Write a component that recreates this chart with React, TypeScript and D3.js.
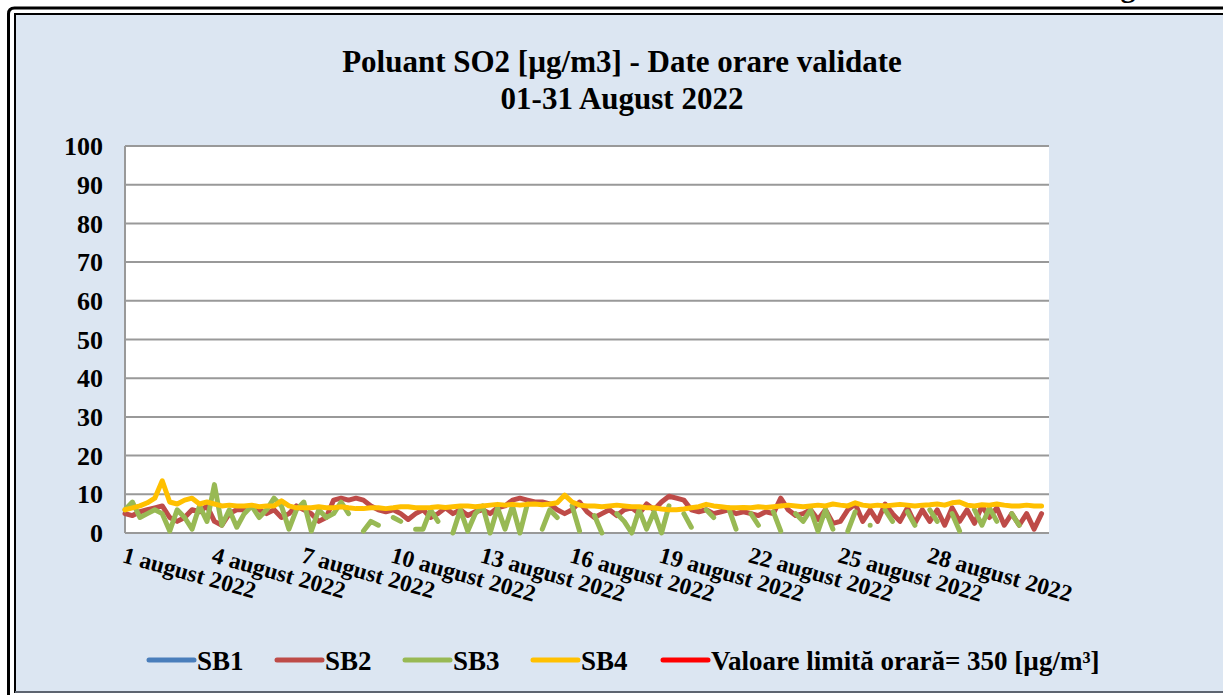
import { useRef, useEffect } from 'react';
import * as d3 from 'd3';

// hourly data sampled every 6 hours, 4 values per day, 1-31 August 2022
const stepHours = 6;
const seriesNames = ['SB1', 'SB2', 'SB3', 'SB4'];
const seriesColors = ['#4a7ebb', '#be4b48', '#98b954', '#ffc000'];
const limitLabel = 'Valoare limită orară= 350 [µg/m³]';
const limitValue = 350;
const yTicks = [0, 10, 20, 30, 40, 50, 60, 70, 80, 90, 100];
const labelDays = [1, 4, 7, 10, 13, 16, 19, 22, 25, 28];

const sb1: (number | null)[] = [];

const sb2: (number | null)[] = [
  5, 4.5, 5.5, 6,
  6.5, 7, 4, 3,
  4, 6, 5.5, 7,
  3, 2, 5, 6,
  6, 7, 6, 5,
  6, 4, 5, 7,
  6, 5, 3, 4,
  8.5, 9, 8.5, 9,
  8.5, 7, 6, 5.5,
  6, 5, 3.5, 5,
  6, 4, 5, 6.5,
  5, 6, 4.5, 5.5,
  6, 5, 6.5, 7,
  8.5, 9, 8.5, 8,
  8, 7.5, 6, 5,
  6, 8, 5.5, 4,
  5, 6, 4.5, 6,
  6.5, 5, 7.5, 6,
  8, 9.5, 9, 8.5,
  6, 5.5, 6, 5,
  5.5, 6, 5, 5.5,
  5, 4.5, 5.5, 5,
  9, 6, 4.5, 5,
  6, 3.5, 6, 2.5,
  3, 6, 7.5, 3,
  6, 3, 7.5, 5,
  3, 6.5, 2.5, 6,
  3, 6, 2, 6.5,
  3, 6, 2.5, 7,
  4, 6.5, 2, 5,
  2, 5, 1, 5,
];

const sb3: (number | null)[] = [
  6, 8, 4, 5,
  6, 5, 0.5, 6,
  4, 1, 7, 3,
  12.5, 2, 6, 1.5,
  5, 7, 4, 6,
  9, 7, 1, 6,
  8, 0.5, 6, 4,
  5, 8, 5, null,
  0.5, 3, 2, null,
  4, 3, null, 1,
  1, 6, 3, null,
  0, 6, 0.5, 5,
  7, 0, 6.5, 1,
  7, 0, 7.5, null,
  1, 6, 4, null,
  7, 0.5, null, 4.5,
  0, null, 5, 3,
  0, 6, 1, 5.5,
  0, 7, null, 5,
  1.5, null, 6, 4,
  null, 6.5, 1, null,
  5, 2, null, 5.5,
  0.5, null, 5, 3,
  6, 0.5, 6, 1,
  null, 0.5, 5.5, null,
  2, null, 6, 3,
  null, 5.5, 2, null,
  6, 3, null, 5,
  0.5, null, 6, 2,
  6.5, 3, null, 5,
  2, null, null, null,
];

const sb4: (number | null)[] = [
  6, 6.5, 7, 7.8,
  9, 13.5, 8, 7.5,
  8.5, 9, 7.5, 8,
  7.5, 7, 7.2, 7,
  7, 7.2, 6.8, 7,
  7, 8.3, 7, 6.5,
  6.5, 6.5, 6.8, 6.5,
  6.5, 6.8, 6.5, 6.3,
  6.3, 6.5, 6.5, 6.3,
  6.5, 6.8, 6.8, 6.5,
  6.5, 6.6, 6.8, 6.6,
  6.8, 7, 7, 6.8,
  7, 7.2, 7.4, 7.2,
  7.4, 7.2, 7.4, 7.5,
  7.3, 7.5, 7.8, 9.8,
  8, 7.2, 7, 7,
  6.8, 7, 7.2, 7,
  6.8, 6.8, 6.5, 6.5,
  6.2, 6, 6, 6.2,
  6.5, 6.8, 7.4, 7,
  6.8, 6.5, 6.5, 6.6,
  6.5, 6.8, 6.6, 6.8,
  7, 7.2, 7, 6.8,
  7, 7.2, 7, 7.5,
  7.2, 7, 7.8, 7.2,
  7, 7.2, 7, 7.2,
  7.4, 7.2, 7, 7.2,
  7.3, 7.5, 7.2, 7.8,
  8, 7.2, 7, 7.3,
  7.2, 7.5, 7.2, 7,
  7, 7.2, 7, 7,
];

const App = () => {
  const svgRef = useRef<SVGSVGElement>(null);

  useEffect(() => {
    const w = 1223;
    const h = 695;
    const svg = d3.select(svgRef.current).attr('width', w).attr('height', h);
    svg.selectAll('*').remove();

    const font = '"Liberation Serif", "Times New Roman", serif';

    // page frame
    svg.append('rect').attr('width', w).attr('height', h).attr('fill', '#fff');
    svg.append('path')
      .attr('d', 'M8.5,695 L8.5,14 Q8.5,8 14.5,8 L1223,8')
      .attr('fill', 'none').attr('stroke', '#000').attr('stroke-width', 3);
    svg.append('rect')
      .attr('x', 15).attr('y', 14).attr('width', w).attr('height', 678)
      .attr('fill', '#dce6f2').attr('stroke', '#000').attr('stroke-width', 2);
    svg.append('line')
      .attr('x1', 15).attr('x2', w).attr('y1', 692).attr('y2', 692)
      .attr('stroke', '#5d6470').attr('stroke-width', 2);
    // descender of a heading above the frame, cut by the page edge as in the original
    svg.append('text').attr('x', 1128).attr('y', -3)
      .attr('font-family', font).attr('font-weight', 'bold').attr('font-size', 30)
      .attr('text-anchor', 'middle').text('g');

    // title
    const title = svg.append('text')
      .attr('text-anchor', 'middle').attr('font-family', font)
      .attr('font-weight', 'bold').attr('font-size', 31);
    title.append('tspan').attr('x', 622).attr('y', 72).text('Poluant SO2 [µg/m3] - Date orare validate');
    title.append('tspan').attr('x', 622).attr('y', 109).text('01-31 August 2022');

    // scales
    const start = new Date(2022, 7, 1, 0, 0);
    const end = new Date(2022, 8, 1, 0, 0);
    const xScale = d3.scaleTime().domain([start, end]).range([125, 1049]);
    const yScale = d3.scaleLinear().domain([0, 100]).range([533, 146]);

    svg.append('rect')
      .attr('x', 125).attr('y', 146).attr('width', 924).attr('height', 387)
      .attr('fill', '#fff');

    // grid
    svg.append('g')
      .selectAll('line')
      .data(yTicks)
      .enter()
      .append('line')
      .attr('x1', 125).attr('x2', 1049)
      .attr('y1', d => yScale(d)).attr('y2', d => yScale(d))
      .attr('stroke', '#999').attr('stroke-width', 2);
    svg.append('line')
      .attr('x1', 125).attr('x2', 125).attr('y1', 146).attr('y2', 533)
      .attr('stroke', '#999').attr('stroke-width', 2);

    // y labels
    svg.append('g')
      .selectAll('text')
      .data(yTicks)
      .enter()
      .append('text')
      .attr('x', 103).attr('y', d => yScale(d)).attr('dy', '0.35em')
      .attr('text-anchor', 'end').attr('font-family', font)
      .attr('font-weight', 'bold').attr('font-size', 26)
      .text(d => d);

    // x labels
    svg.append('g')
      .selectAll('text')
      .data(labelDays)
      .enter()
      .append('text')
      .attr('transform', d => `translate(${xScale(new Date(2022, 7, d)) + 1}, 545) rotate(15.5)`)
      .attr('dy', '0.75em')
      .attr('font-family', font).attr('font-weight', 'bold').attr('font-size', 23.5)
      .text(d => `${d} august 2022`);

    // series
    svg.append('clipPath').attr('id', 'plotClip')
      .append('rect').attr('x', 120).attr('y', 140).attr('width', 935).attr('height', 400);

    const line = d3.line<number | null>()
      .defined(d => d != null)
      .x((_, i) => xScale(d3.timeHour.offset(start, i * stepHours)))
      .y(d => yScale(d as number));

    const plot = svg.append('g').attr('clip-path', 'url(#plotClip)');
    [sb1, sb2, sb3, sb4].forEach((s, k) => {
      plot.append('path')
        .attr('d', line(s) || '')
        .attr('fill', 'none')
        .attr('stroke', seriesColors[k])
        .attr('stroke-width', 5)
        .attr('stroke-linejoin', 'round')
        .attr('stroke-linecap', 'round');
    });
    plot.append('line')
      .attr('x1', 125).attr('x2', 1049)
      .attr('y1', yScale(limitValue)).attr('y2', yScale(limitValue))
      .attr('stroke', '#ff0000').attr('stroke-width', 4);

    // legend
    const legendItems = [
      { name: seriesNames[0], color: seriesColors[0], x: 148 },
      { name: seriesNames[1], color: seriesColors[1], x: 276 },
      { name: seriesNames[2], color: seriesColors[2], x: 404 },
      { name: seriesNames[3], color: seriesColors[3], x: 532 },
      { name: limitLabel, color: '#ff0000', x: 662 },
    ];
    const legend = svg.append('g')
      .selectAll('g')
      .data(legendItems)
      .enter()
      .append('g')
      .attr('transform', d => `translate(${d.x}, 660)`);
    legend.append('line')
      .attr('x1', 1).attr('x2', 46)
      .attr('stroke', d => d.color).attr('stroke-width', 5)
      .attr('stroke-linecap', 'round');
    legend.append('text')
      .attr('x', 49).attr('y', 10)
      .attr('font-family', font).attr('font-weight', 'bold').attr('font-size', 27)
      .text(d => d.name);
  }, []);

  return (
    <div>
      <svg ref={svgRef} style={{ position: 'absolute', left: 0, top: 0 }}></svg>
    </div>
  );
};

export default App;
